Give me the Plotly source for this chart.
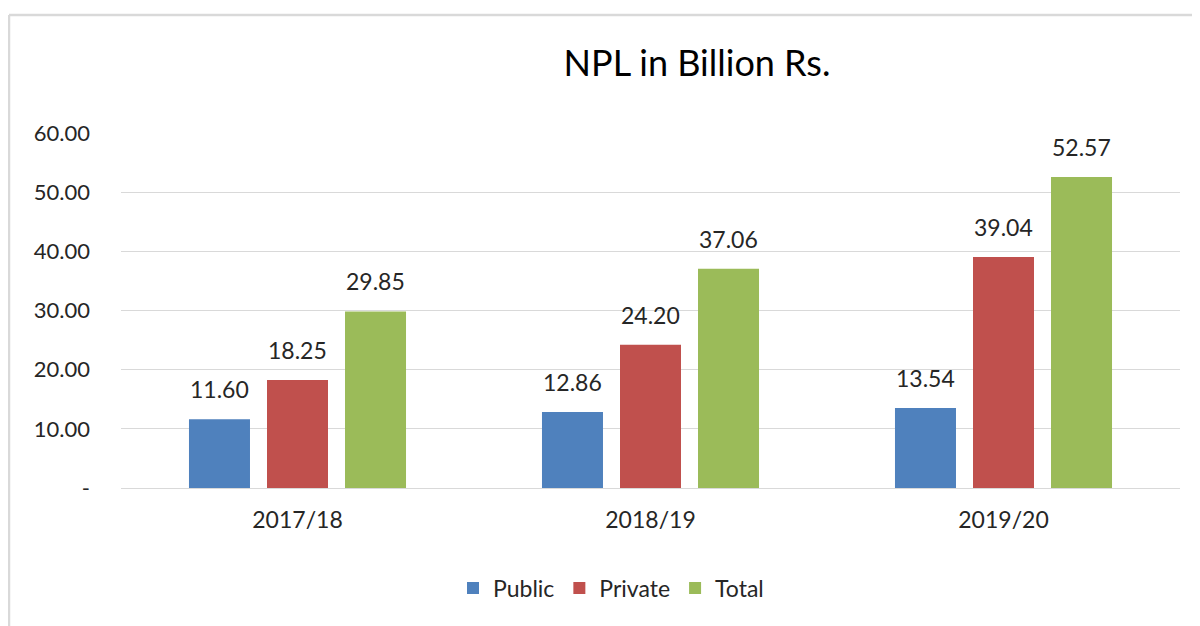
import plotly.graph_objects as go

categories = ["2017/18", "2018/19", "2019/20"]
public = [11.60, 12.86, 13.54]
private = [18.25, 24.20, 39.04]
total = [29.85, 37.06, 52.57]
series_names = ["Public", "Private", "Total"]
colors = ["#4F81BD", "#C0504D", "#9BBB59"]
y_tickvals = [0, 10, 20, 30, 40, 50, 60]
y_ticktext = ["-", "10.00", "20.00", "30.00", "40.00", "50.00", "60.00"]

FONT = "Lato, Carlito, Calibri, sans-serif"
TXT = "#262626"

# page body has an 8px margin, so the figure is 8px smaller than the window
W, H = 1192, 618
ML, MR, MT, MB = 113, 20, 125, 138
BARGAP, GROUPGAP = 0.337, 0.218
plot_w = W - ML - MR
plot_h = H - MT - MB

fig = go.Figure()
all_series = [public, private, total]
for name, vals, col in zip(series_names, all_series, colors):
    fig.add_trace(go.Bar(
        x=categories, y=vals, name=name, marker_color=col,
        marker_line_width=0, hoverinfo="x+y+name",
    ))

# data labels above the bars
slot = plot_w / len(categories) * (1 - BARGAP) / len(series_names)
for i, vals in enumerate(all_series):
    for cat, v in zip(categories, vals):
        fig.add_annotation(x=cat, y=v, text=f"{v:.2f}", showarrow=False,
                           xanchor="center", yanchor="bottom",
                           xshift=(i - (len(series_names) - 1) / 2) * slot, yshift=14,
                           font=dict(size=23, color=TXT, family=FONT))

fig.update_layout(
    width=W, height=H,
    margin=dict(l=ML, r=MR, t=MT, b=MB),
    paper_bgcolor="white", plot_bgcolor="white",
    font=dict(family=FONT, color=TXT, size=22),
    barmode="group", bargap=BARGAP, bargroupgap=GROUPGAP,
    title=dict(text="NPL in Billion Rs.", x=689 / W, xref="container", xanchor="center",
               y=1 - 55 / H, yref="container", yanchor="middle",
               font=dict(size=36, color="#000000", family=FONT)),
    showlegend=True,
    legend=dict(orientation="h", x=(603 - ML) / plot_w, xanchor="center",
                y=(MT + plot_h - 580) / plot_h, yanchor="middle",
                font=dict(size=23, color=TXT, family=FONT), traceorder="normal",
                itemwidth=30),
)
fig.update_yaxes(range=[0, 60], tickvals=y_tickvals, ticktext=y_ticktext,
                 showgrid=True, gridcolor="#D9D9D9", gridwidth=1,
                 zeroline=True, zerolinecolor="#D9D9D9", zerolinewidth=1,
                 showline=False, ticks="", ticklabelstandoff=30,
                 tickfont=dict(size=22, color=TXT, family=FONT))
fig.update_xaxes(showgrid=False, showline=False, ticks="", ticklabelstandoff=16,
                 tickfont=dict(size=23, color=TXT, family=FONT))

# outer chart border (top and left edges visible)
bx = (1 - ML) / plot_w
by = (MT + plot_h - 7) / plot_h
fig.add_shape(type="line", xref="paper", yref="paper",
              x0=bx, x1=1.2, y0=by, y1=by,
              line=dict(color="#D9D9D9", width=2.5))
fig.add_shape(type="line", xref="paper", yref="paper",
              x0=bx, x1=bx, y0=by, y1=-0.5,
              line=dict(color="#D9D9D9", width=2.5))

fig.write_html("out.html")
